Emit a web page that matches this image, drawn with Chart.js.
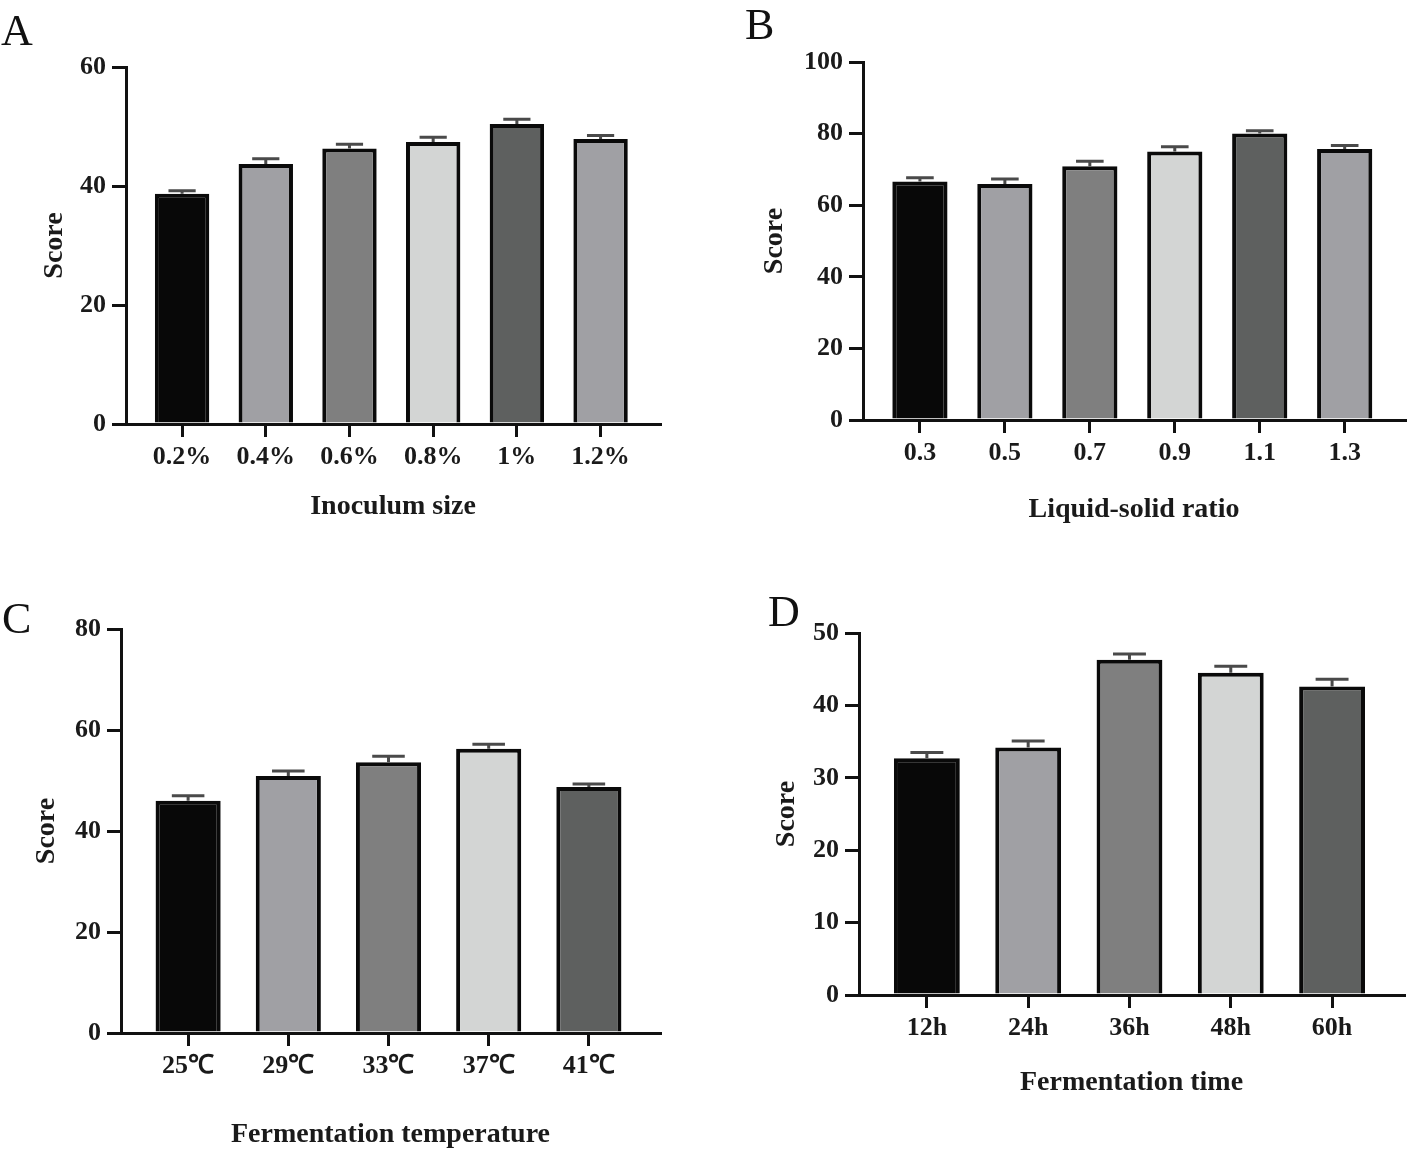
<!DOCTYPE html>
<html>
<head>
<meta charset="utf-8">
<script src="https://cdn.jsdelivr.net/npm/chart.js@4.4.0/dist/chart.umd.min.js"></script>
<style>
  body { margin: 0; background: #fff; width: 1418px; height: 1157px; position: relative; overflow: hidden; }
  canvas { position: absolute; }
  .tag { position: absolute; font: 44px "Liberation Serif", "Times New Roman", serif; line-height: 1; color: #111; z-index: 2; }
</style>
</head>
<body>
<canvas id="chartA"></canvas>
<canvas id="chartB"></canvas>
<canvas id="chartC"></canvas>
<canvas id="chartD"></canvas>
<div class="tag" style="left:1px;top:9px">A</div>
<div class="tag" style="left:745px;top:3px">B</div>
<div class="tag" style="left:2px;top:597px">C</div>
<div class="tag" style="left:768px;top:590px">D</div>
<script>
// A: inoculum size
const inoculumLabels = ['0.2%', '0.4%', '0.6%', '0.8%', '1%', '1.2%'];
const inoculumScores = [38.7, 43.7, 46.3, 47.4, 50.4, 47.9];
const inoculumErrors = [0.5, 0.9, 0.7, 0.8, 0.8, 0.6];

// B: liquid-solid ratio
const ratioLabels = ['0.3', '0.5', '0.7', '0.9', '1.1', '1.3'];
const ratioScores = [66.6, 65.9, 70.9, 75.0, 80.0, 75.7];
const ratioErrors = [1.1, 1.4, 1.4, 1.3, 0.8, 1.0];

// C: fermentation temperature
const tempLabels = ['25℃', '29℃', '33℃', '37℃', '41℃'];
const tempScores = [46.0, 50.9, 53.6, 56.3, 48.7];
const tempErrors = [1.0, 1.0, 1.2, 0.9, 0.6];

// D: fermentation time
const timeLabels = ['12h', '24h', '36h', '48h', '60h'];
const timeScores = [32.7, 34.2, 46.3, 44.5, 42.6];
const timeErrors = [0.8, 0.9, 0.8, 0.9, 1.0];

const barFills = ['#080808', '#a0a0a4', '#7f7f7f', '#d3d5d4', '#5e605f', '#a0a0a4'];

const FONT = '"Liberation Serif", "Times New Roman", serif';
const INK = '#111';

// up-only error bars, drawn from the bar elements and the y scale
const errorBars = {
  id: 'errorBars',
  afterDatasetsDraw(chart, args, opts) {
    const { ctx } = chart;
    const yScale = chart.scales.y;
    const meta = chart.getDatasetMeta(0);
    const points = chart.data.datasets[0].data;
    ctx.save();
    ctx.strokeStyle = '#4a4a4a';
    ctx.lineWidth = 3;
    meta.data.forEach((bar, i) => {
      const v = points[i].y;
      const base = yScale.getPixelForValue(v);
      const top = yScale.getPixelForValue(v + opts.errors[i]);
      const half = bar.width * 0.25;
      ctx.beginPath();
      ctx.moveTo(bar.x, base);
      ctx.lineTo(bar.x, top);
      ctx.moveTo(bar.x - half, top);
      ctx.lineTo(bar.x + half, top);
      ctx.stroke();
    });
    ctx.restore();
  }
};

function makePanel(id, cfg) {
  const { box, area } = cfg;
  const canvas = document.getElementById(id);
  canvas.width = box.width;
  canvas.height = box.height;
  canvas.style.left = box.left + 'px';
  canvas.style.top = box.top + 'px';

  const titleLine = 28 * 1.2;
  const localLeft = area.left - box.left;
  const localRight = area.right - box.left;
  const localTop = area.top - box.top;
  const localBottom = area.bottom - box.top;

  return new Chart(canvas, {
    type: 'bar',
    data: {
      datasets: [{
        data: cfg.values.map((v, i) => ({ x: i, y: v })),
        backgroundColor: barFills.slice(0, cfg.values.length),
        borderColor: '#0a0a0a',
        borderWidth: 4,
        borderSkipped: 'bottom',
        categoryPercentage: 1,
        barPercentage: 0.65
      }]
    },
    options: {
      responsive: false,
      animation: false,
      devicePixelRatio: 1,
      layout: { padding: { left: 0, top: localTop, right: box.width - localRight, bottom: 0 } },
      plugins: {
        legend: { display: false },
        tooltip: { enabled: false },
        errorBars: { errors: cfg.errors }
      },
      scales: {
        x: {
          type: 'linear',
          min: -0.67,
          max: cfg.values.length - 1 + 0.71,
          offset: false,
          afterFit: s => { s.height = box.height - localBottom; },
          afterBuildTicks: s => { s.ticks = cfg.labels.map((_, i) => ({ value: i })); },
          grid: { offset: false, drawOnChartArea: false, color: INK, lineWidth: 3, tickLength: 13 },
          border: { display: true, color: INK, width: 3, z: 1 },
          ticks: {
            autoSkip: false, maxRotation: 0, padding: 5, color: '#1a1a1a',
            font: { family: FONT, size: 26, weight: 'bold' },
            callback: v => cfg.labels[v]
          },
          title: {
            display: true, text: cfg.xTitle, color: '#1a1a1a',
            font: { family: FONT, size: 28, weight: 'bold' },
            padding: { top: 0, bottom: box.top + box.height - cfg.titleY - titleLine / 2 }
          }
        },
        y: {
          min: 0,
          max: cfg.yMax,
          afterFit: s => { s.width = localLeft; },
          grid: { drawOnChartArea: false, color: INK, lineWidth: 3, tickLength: 14 },
          border: { display: true, color: INK, width: 3 },
          ticks: {
            stepSize: cfg.yStep, padding: 6, color: '#1a1a1a',
            font: { family: FONT, size: 26, weight: 'bold' }
          },
          title: {
            display: true, text: 'Score', color: '#1a1a1a',
            font: { family: FONT, size: 28, weight: 'bold' },
            padding: { top: cfg.scoreX - box.left - titleLine / 2, bottom: 0 }
          }
        }
      }
    },
    plugins: [errorBars]
  });
}

makePanel('chartA', {
  box: { left: 0, top: 0, width: 709, height: 560 },
  area: { left: 126, right: 660, top: 67, bottom: 424 },
  labels: inoculumLabels, values: inoculumScores, errors: inoculumErrors,
  yMax: 60, yStep: 20, xTitle: 'Inoculum size', titleY: 507, scoreX: 55
});

makePanel('chartB', {
  box: { left: 709, top: 0, width: 709, height: 560 },
  area: { left: 863, right: 1405, top: 62, bottom: 420 },
  labels: ratioLabels, values: ratioScores, errors: ratioErrors,
  yMax: 100, yStep: 20, xTitle: 'Liquid-solid ratio', titleY: 510, scoreX: 775
});

makePanel('chartC', {
  box: { left: 0, top: 560, width: 709, height: 597 },
  area: { left: 121, right: 660, top: 629, bottom: 1033 },
  labels: tempLabels, values: tempScores, errors: tempErrors,
  yMax: 80, yStep: 20, xTitle: 'Fermentation temperature', titleY: 1135, scoreX: 47
});

makePanel('chartD', {
  box: { left: 709, top: 560, width: 709, height: 597 },
  area: { left: 859, right: 1404, top: 633, bottom: 995 },
  labels: timeLabels, values: timeScores, errors: timeErrors,
  yMax: 50, yStep: 10, xTitle: 'Fermentation time', titleY: 1083, scoreX: 787
});
</script>
</body>
</html>
